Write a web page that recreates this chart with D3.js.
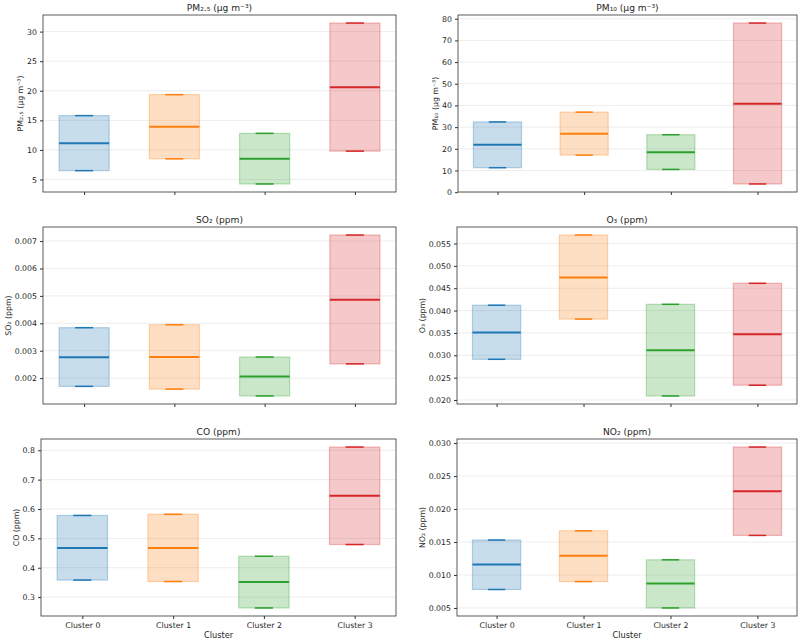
<!DOCTYPE html>
<html>
<head>
<meta charset="utf-8">
<script src="https://cdn.jsdelivr.net/npm/d3@7"></script>
<style>
  body { margin: 0; background: #fff; }
  text { font-family: "DejaVu Sans", sans-serif; fill: #262626; }
</style>
</head>
<body>
<div id="chart"></div>
<script>
// Chart size
const width = 800;
const height = 640;

// Categories and colours
const clusters = ["Cluster 0", "Cluster 1", "Cluster 2", "Cluster 3"];
const colors = ["#1f77b4", "#ff7f0e", "#2ca02c", "#d62728"];

// PM2.5 (min / median / max per cluster)
const pm25Min = [6.5, 8.5, 4.25, 9.8];
const pm25Med = [11.15, 13.9, 8.5, 20.6];
const pm25Max = [15.8, 19.35, 12.8, 31.45];
const pm25Ticks = [5, 10, 15, 20, 25, 30];

// PM10
const pm10Min = [11.3, 17.1, 10.5, 3.8];
const pm10Med = [21.9, 26.9, 18.4, 40.8];
const pm10Max = [32.4, 36.9, 26.5, 78.0];
const pm10Ticks = [0, 10, 20, 30, 40, 50, 60, 70, 80];

// SO2
const so2Min = [0.00170, 0.00160, 0.00135, 0.00252];
const so2Med = [0.00276, 0.00277, 0.00206, 0.00486];
const so2Max = [0.00384, 0.00395, 0.00277, 0.00722];
const so2Ticks = [0.002, 0.003, 0.004, 0.005, 0.006, 0.007];

// O3
const o3Min = [0.0291, 0.0381, 0.0209, 0.0233];
const o3Med = [0.0351, 0.0474, 0.0311, 0.0347];
const o3Max = [0.0412, 0.0569, 0.0414, 0.0461];
const o3Ticks = [0.020, 0.025, 0.030, 0.035, 0.040, 0.045, 0.050, 0.055];

// CO
const coMin = [0.358, 0.353, 0.263, 0.479];
const coMed = [0.467, 0.467, 0.351, 0.645];
const coMax = [0.578, 0.582, 0.439, 0.811];
const coTicks = [0.3, 0.4, 0.5, 0.6, 0.7, 0.8];

// NO2
const no2Min = [0.0078, 0.0090, 0.0050, 0.0160];
const no2Med = [0.0116, 0.0129, 0.0087, 0.0227];
const no2Max = [0.0153, 0.0167, 0.0123, 0.0294];
const no2Ticks = [0.005, 0.010, 0.015, 0.020, 0.025, 0.030];

// Panel layout (axes boxes in px)
const panels = [
  {title: "PM₂.₅ (µg m⁻³)", mins: pm25Min, meds: pm25Med, maxs: pm25Max, ticks: pm25Ticks, fmt: "d",
   left: 43, right: 396, top: 15, bottom: 192, xlabels: false},
  {title: "PM₁₀ (µg m⁻³)", mins: pm10Min, meds: pm10Med, maxs: pm10Max, ticks: pm10Ticks, fmt: "d",
   left: 458, right: 797, top: 15, bottom: 192, xlabels: false},
  {title: "SO₂ (ppm)", mins: so2Min, meds: so2Med, maxs: so2Max, ticks: so2Ticks, fmt: ".3f",
   left: 43, right: 396, top: 227, bottom: 404, xlabels: false},
  {title: "O₃ (ppm)", mins: o3Min, meds: o3Med, maxs: o3Max, ticks: o3Ticks, fmt: ".3f",
   left: 457, right: 797, top: 227, bottom: 404, xlabels: false},
  {title: "CO (ppm)", mins: coMin, meds: coMed, maxs: coMax, ticks: coTicks, fmt: ".1f",
   left: 41, right: 396, top: 439, bottom: 616, xlabels: true},
  {title: "NO₂ (ppm)", mins: no2Min, meds: no2Med, maxs: no2Max, ticks: no2Ticks, fmt: ".3f",
   left: 457, right: 797, top: 439, bottom: 616, xlabels: true}
];

const boxWidth = 0.555;  // in category units
const capWidth = 0.2;

const svg = d3.select("#chart")
  .append("svg")
  .attr("width", width)
  .attr("height", height)
  .attr("viewBox", [0, 0, width, height]);

panels.forEach(function(p) {
  const g = svg.append("g");
  const idx = d3.range(clusters.length);

  // x: category index, padded like matplotlib (5% margins)
  const span = (clusters.length - 1) + boxWidth;
  const xPad = boxWidth / 2 + 0.05 * span;
  const x = d3.scaleLinear()
    .domain([-xPad, clusters.length - 1 + xPad])
    .range([p.left, p.right]);

  // y: min to max with 5% margins
  const lo = d3.min(p.mins), hi = d3.max(p.maxs);
  const yPad = 0.05 * (hi - lo);
  const y = d3.scaleLinear()
    .domain([lo - yPad, hi + yPad])
    .range([p.bottom, p.top]);

  // grid lines
  g.selectAll(".grid")
    .data(p.ticks)
    .enter()
    .append("line")
      .attr("x1", p.left)
      .attr("x2", p.right)
      .attr("y1", d => y(d))
      .attr("y2", d => y(d))
      .attr("stroke", "#e8e8e8")
      .attr("stroke-width", 0.8);

  // range boxes
  g.selectAll(".box")
    .data(idx)
    .enter()
    .append("rect")
      .attr("x", i => x(i - boxWidth / 2))
      .attr("width", i => x(i + boxWidth / 2) - x(i - boxWidth / 2))
      .attr("y", i => y(p.maxs[i]))
      .attr("height", i => y(p.mins[i]) - y(p.maxs[i]))
      .attr("fill", i => colors[i])
      .attr("fill-opacity", 0.25)
      .attr("stroke", i => colors[i])
      .attr("stroke-opacity", 0.3)
      .attr("stroke-width", 1.2);

  // caps at min and max
  ["mins", "maxs"].forEach(function(key) {
    g.selectAll(".cap-" + key)
      .data(idx)
      .enter()
      .append("line")
        .attr("x1", i => x(i - capWidth / 2))
        .attr("x2", i => x(i + capWidth / 2))
        .attr("y1", i => y(p[key][i]))
        .attr("y2", i => y(p[key][i]))
        .attr("stroke", i => colors[i])
        .attr("stroke-width", 1.5);
  });

  // medians
  g.selectAll(".median")
    .data(idx)
    .enter()
    .append("line")
      .attr("x1", i => x(i - boxWidth / 2))
      .attr("x2", i => x(i + boxWidth / 2))
      .attr("y1", i => y(p.meds[i]))
      .attr("y2", i => y(p.meds[i]))
      .attr("stroke", i => colors[i])
      .attr("stroke-width", 2);

  // y axis
  const yAxis = g.append("g")
    .attr("transform", `translate(${p.left},0)`)
    .call(d3.axisLeft(y).tickValues(p.ticks).tickFormat(d3.format(p.fmt)).tickSize(3).tickPadding(3));
  yAxis.select(".domain").remove();
  yAxis.selectAll("line").attr("stroke", "#333");
  yAxis.selectAll("text").attr("font-size", "7.8px").attr("font-family", "DejaVu Sans").attr("fill", "#262626");

  // x axis
  const xAxis = g.append("g")
    .attr("transform", `translate(0,${p.bottom})`)
    .call(d3.axisBottom(x).tickValues(idx).tickFormat(i => p.xlabels ? clusters[i] : "").tickSize(3).tickPadding(3.5));
  xAxis.select(".domain").remove();
  xAxis.selectAll("line").attr("stroke", "#333");
  xAxis.selectAll("text").attr("font-size", "7.8px").attr("font-family", "DejaVu Sans").attr("fill", "#262626");

  // frame
  g.append("rect")
    .attr("x", p.left)
    .attr("y", p.top)
    .attr("width", p.right - p.left)
    .attr("height", p.bottom - p.top)
    .attr("fill", "none")
    .attr("stroke", "#333")
    .attr("stroke-width", 0.8);

  // title
  g.append("text")
    .attr("x", (p.left + p.right) / 2)
    .attr("y", p.top - 4)
    .attr("text-anchor", "middle")
    .attr("font-size", "9.1px")
    .text(p.title);

  // y label placed left of the widest tick label
  let maxW = 0;
  yAxis.selectAll("text").each(function() { maxW = Math.max(maxW, this.getComputedTextLength()); });
  const lx = p.left - 3 - 3 - maxW - 4;
  g.append("text")
    .attr("transform", `translate(${lx},${(p.top + p.bottom) / 2}) rotate(-90)`)
    .attr("text-anchor", "middle")
    .attr("font-size", "7.8px")
    .text(p.title);

  // x label
  if (p.xlabels) {
    g.append("text")
      .attr("x", (p.left + p.right) / 2)
      .attr("y", p.bottom + 22)
      .attr("text-anchor", "middle")
      .attr("font-size", "8.2px")
      .text("Cluster");
  }
});
</script>
</body>
</html>
